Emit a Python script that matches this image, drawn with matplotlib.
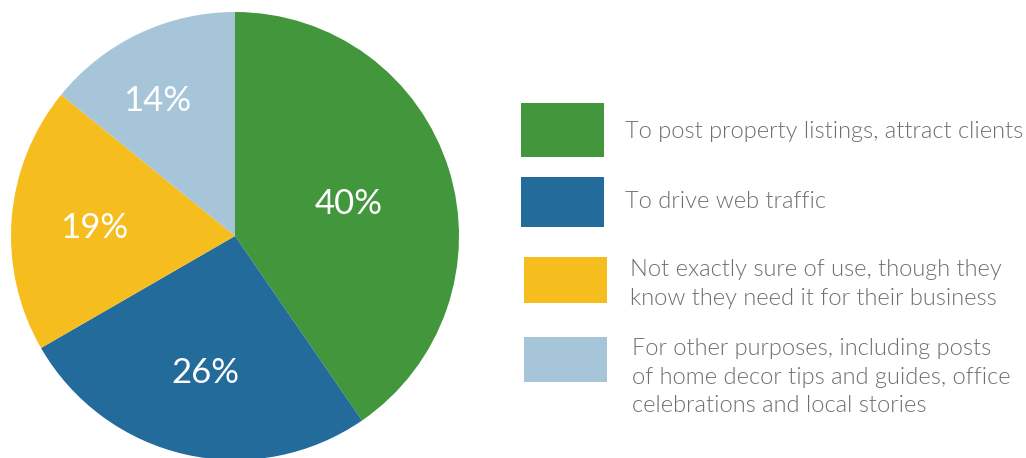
import matplotlib.pyplot as plt
from matplotlib.patches import Rectangle
import numpy as np

# chart data
shares = [40, 26, 19, 14]
pct_labels = ['40%', '26%', '19%', '14%']
legend_labels = [
    'To post property listings, attract clients',
    'To drive web traffic',
    'Not exactly sure of use, though they\nknow they need it for their business',
    'For other purposes, including posts\nof home decor tips and guides, office\ncelebrations and local stories',
]
COLORS = ['#42963b', '#236b9b', '#f6bd1e', '#a6c5d8']
TEXT_GRAY = '#6e6e6e'

W, H = 1026, 458
fig = plt.figure(figsize=(W / 100, H / 100), dpi=100)

# pie axes, square in pixels
ax = fig.add_axes([11 / W, (H - 460) / H, 448 / W, 448 / H])
wedges, _ = ax.pie(shares, colors=COLORS, startangle=90, counterclock=False,
                   radius=1, wedgeprops=dict(linewidth=0))
ax.set_xlim(-1, 1)
ax.set_ylim(-1, 1)
ax.axis('off')

# label distance from the centre, per wedge
label_dist = [0.53, 0.61, 0.63, 0.71]
label_turn = [0, 0, 0, 4]  # small angular nudge in degrees
for w, txt, d, t in zip(wedges, pct_labels, label_dist, label_turn):
    mid = np.deg2rad((w.theta1 + w.theta2) / 2 + t)
    ax.text(d * np.cos(mid), d * np.sin(mid) - 0.015, txt, color='white', fontsize=25,
            family='Lato', ha='center', va='center')

# legend drawn in pixel space
lax = fig.add_axes([0, 0, 1, 1])
lax.set_xlim(0, W)
lax.set_ylim(H, 0)
lax.axis('off')

boxes = [(521, 103, 83, 54), (521, 177, 83, 50), (524, 257, 83, 46), (524, 337, 83, 45)]
text_pos = [(625, 131), (625, 202), (630, 284), (632, 377)]
for (bx, by, bw, bh), (tx, ty), lab, c in zip(boxes, text_pos, legend_labels, COLORS):
    lax.add_patch(Rectangle((bx, by), bw, bh, color=c, lw=0))
    lax.text(tx, ty, lab, color=TEXT_GRAY, fontsize=17, family='Lato',
             fontweight=300, ha='left', va='center', linespacing=1.42)

fig.savefig('out.png', dpi=100)
